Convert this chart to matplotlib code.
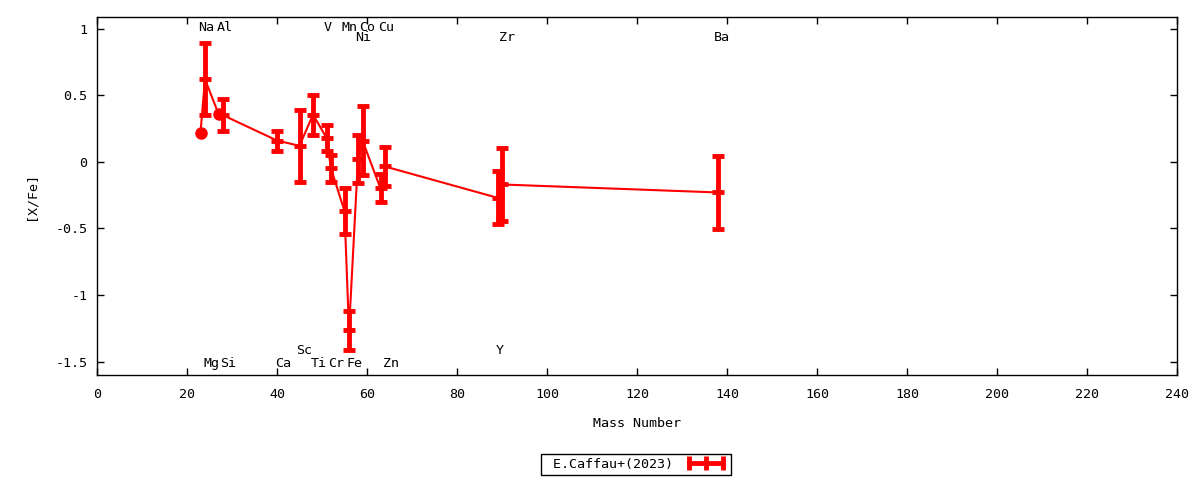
import matplotlib
matplotlib.use('Agg')
import matplotlib.pyplot as plt
from matplotlib.lines import Line2D
from matplotlib.ticker import FormatStrFormatter
import numpy as np

plt.rcParams['font.family'] = ['DejaVu Sans Mono']
plt.rcParams['font.size'] = 9.6
plt.rcParams['axes.unicode_minus'] = False

# [X/Fe] per element, plotted at mass number
elements = ['Na', 'Mg', 'Al', 'Si', 'Ca', 'Sc', 'Ti', 'V', 'Cr', 'Mn', 'Fe',
            'Ni', 'Co', 'Cu', 'Zn', 'Y', 'Zr', 'Ba']
mass = [23, 24, 27, 28, 40, 45, 48, 51, 52, 55, 56, 58, 59, 63, 64, 89, 90, 138]
xfe = [0.22, 0.62, 0.36, 0.35, 0.16, 0.12, 0.355, 0.18, -0.05, -0.37, -1.265,
       0.02, 0.16, -0.20, -0.035, -0.27, -0.17, -0.23]
err = [0.0, 0.27, 0.0, 0.12, 0.075, 0.27, 0.15, 0.095, 0.10, 0.17, 0.145,
       0.18, 0.26, 0.105, 0.148, 0.20, 0.272, 0.272]

# element labels placed in the plot
lab_text = ['Na', 'Al', 'V', 'Mn', 'Co', 'Cu', 'Ni', 'Zr', 'Ba',
            'Mg', 'Si', 'Ca', 'Ti', 'Cr', 'Fe', 'Zn', 'Sc', 'Y']
lab_x = [24.3, 28.3, 51.3, 56.2, 60.1, 64.3, 59.2, 91.2, 138.9,
         25.4, 29.2, 41.4, 49.3, 53.1, 57.3, 65.3, 46.0, 89.5]
lab_y = [1.01, 1.01, 1.01, 1.01, 1.01, 1.01, 0.935, 0.935, 0.935,
         -1.51, -1.51, -1.51, -1.51, -1.51, -1.51, -1.51, -1.415, -1.415]

x = np.array(mass)
y = np.array(xfe)
e = np.array(err)

fig = plt.figure(figsize=(12, 4.8), dpi=100)
ax = fig.add_axes([97/1200, 1-375/480, 1080/1200, 358/480])

red = '#ff0000'
ax.plot(x, y, '-', color=red, lw=1.5, zorder=3)
has = e > 0
ax.errorbar(x[has], y[has], yerr=e[has], fmt='none', ecolor=red,
            elinewidth=3.5, capsize=4, capthick=3.5, zorder=4)
ax.plot(x[has], y[has], '_', color=red, ms=9, mew=3.5, zorder=5)
ax.plot(x[~has], y[~has], 'o', color=red, ms=8, zorder=5)

for t, lx, ly in zip(lab_text, lab_x, lab_y):
    ax.text(lx, ly, t, ha='center', va='center', fontsize=9.6)

ax.set_xlim(0, 240)
ax.set_ylim(-1.6, 1.087)
ax.set_xticks(np.arange(0, 241, 20))
ax.set_yticks([-1.5, -1, -0.5, 0, 0.5, 1])
ax.yaxis.set_major_formatter(FormatStrFormatter('%g'))
ax.tick_params(direction='in', length=5, width=1, top=True, right=True)
ax.tick_params(axis='x', pad=9)
ax.tick_params(axis='y', pad=7)
for s in ax.spines.values():
    s.set_linewidth(1)

ax.set_xlabel('Mass Number')
ax.xaxis.set_label_coords(0.5, -0.118)
ax.set_ylabel('[X/Fe]')
ax.yaxis.set_label_coords(-0.055, 0.5)

handle = Line2D([], [], color=red, lw=3.5, marker='|', ms=10, mew=3.5)
leg = fig.legend([handle], [' E.Caffau+(2023)'], loc='center',
                 bbox_to_anchor=(636/1200, 1-464.5/480), numpoints=3,
                 markerfirst=False, handlelength=3.2, handletextpad=0.9,
                 borderpad=0.3, fancybox=False, framealpha=1,
                 edgecolor='black')
leg.get_frame().set_linewidth(1)

fig.savefig('out.png', dpi=100)
